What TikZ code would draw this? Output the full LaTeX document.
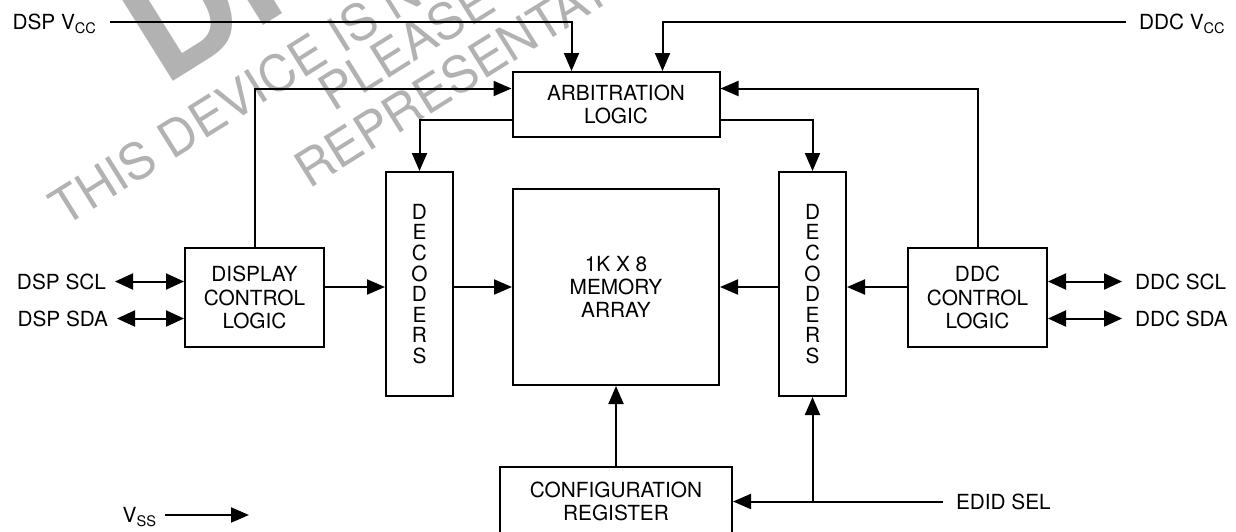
\documentclass[tikz,border=0pt]{standalone}
\usepackage{fontspec}
\setmainfont{TeX Gyre Heros}
\usetikzlibrary{arrows.meta, positioning}
\usepackage{xcolor}
\definecolor{wmgray}{RGB}{178,178,178}
\tikzstyle{block}   = [rectangle, draw=black, line width=1pt, align=center, inner sep=0pt]
\tikzstyle{decoder} = [block, minimum width=33.5pt, minimum height=112pt,
                       font=\fontsize{10.4}{10.3}\selectfont]
\tikzstyle{ctrl}    = [block, minimum width=69.5pt, minimum height=49.5pt]
\tikzstyle{sig}     = [inner sep=0pt, outer sep=6.5pt, text height=7.5pt, text depth=0pt]
\tikzstyle{wm}      = [text=wmgray, inner sep=0pt, anchor=base west, rotate=32,
                       font=\fontsize{25}{25}\selectfont]
\tikzstyle{arrow}   = [line width=1pt, -{Triangle[length=9pt, width=7.5pt]}]
\tikzstyle{dbl}     = [line width=1pt, {Triangle[length=9pt, width=8pt]}-{Triangle[length=9pt, width=8pt]}]

\begin{document}
\begin{tikzpicture}[x=0.5pt, y=-0.5pt, node distance=29pt,
                    every node/.style={font=\fontsize{10.4}{11.6}\selectfont}]
  \useasboundingbox (0,0) rectangle (1236,531);

  % Watermark
  \node (wmbig)   [wm, font=\fontsize{75}{75}\selectfont\bfseries] at (163,88) {DI};
  \node (wmtop)   [wm] at (64,228)  {THIS DEVICE IS NOT};
  \node (wmmid)   [wm] at (333,113) {PLEASE};
  \node (wmlow)   [wm] at (309,190) {REPRESENTATIVE};

  % Blocks
  \node (mem)  [block, minimum width=103pt, minimum height=98pt] at (616,287)
               {1K X 8\\MEMORY\\ARRAY};
  \node (arb)  [block, minimum width=103.5pt, minimum height=32.5pt, above=25pt of mem]
               {ARBITRATION\\LOGIC};
  \node (decL) [decoder, left=of mem, yshift=1.5pt]  {D\\E\\C\\O\\D\\E\\R\\S};
  \node (decR) [decoder, right=of mem, yshift=1.5pt] {D\\E\\C\\O\\D\\E\\R\\S};
  \node (disp) [ctrl, left=30pt of decL, yshift=-6.75pt]  {DISPLAY\\CONTROL\\LOGIC};
  \node (ddc)  [ctrl, right=30pt of decR, yshift=-6.75pt] {DDC\\CONTROL\\LOGIC};
  \node (cfg)  [block, minimum width=116pt, minimum height=34.5pt, below=40pt of mem]
               {CONFIGURATION\\REGISTER};

  % Pins
  \node (dspvcc) [sig, anchor=east] at (110,22)   {DSP V\textsubscript{CC}};
  \node (ddcvcc) [sig, anchor=west] at (1126,22)  {DDC V\textsubscript{CC}};
  \node (dspscl) [sig, outer sep=4.5pt, anchor=east] at (115,281.5) {DSP SCL};
  \node (dspsda) [sig, outer sep=4.5pt, anchor=east] at (117,318.5) {DSP SDA};
  \node (ddcscl) [sig, anchor=west] at (1122,281.5) {DDC SCL};
  \node (ddcsda) [sig, anchor=west] at (1122,318.5) {DDC SDA};
  \node (edid)   [sig, anchor=west] at (943,501.5)  {EDID SEL};
  \node (vss)    [sig, outer sep=4pt, anchor=east] at (165,515) {V\textsubscript{SS}};
  \coordinate (vssend) at (249,515);

  % Supplies
  \draw[arrow] (dspvcc.east) -| ([xshift=-22.25pt]arb.north);
  \draw[arrow] (ddcvcc.west) -| ([xshift=23.25pt]arb.north);

  % Control to arbitration
  \draw[arrow] (disp.north) |- ([yshift=8pt]arb.west);
  \draw[arrow] (ddc.north) |- ([yshift=8pt]arb.east);

  % Arbitration to decoders
  \draw[arrow] ([yshift=-7.75pt]arb.west) -| (decL.north);
  \draw[arrow] ([yshift=-7.75pt]arb.east) -| (decR.north);

  % Data path
  \draw[arrow] (disp.east |- mem) -- (decL.west |- mem);
  \draw[arrow] (decL.east |- mem) -- (mem.west);
  \draw[arrow] (decR.west |- mem) -- (mem.east);
  \draw[arrow] (ddc.west |- mem) -- (decR.east |- mem);

  % Serial lines
  \draw[dbl] (dspscl.east) -- (dspscl.east -| disp.west);
  \draw[dbl] (dspsda.east) -- (dspsda.east -| disp.west);
  \draw[dbl] (ddc.east |- ddcscl.west) -- (ddcscl.west);
  \draw[dbl] (ddc.east |- ddcsda.west) -- (ddcsda.west);

  % Configuration
  \draw[arrow] (cfg.north) -- (mem.south);
  \draw[arrow] (edid.west) -- (edid.west -| cfg.east);
  \coordinate (jn) at (decR.south |- edid.west);
  \draw[arrow] (jn) -- (decR.south);

  \draw[arrow] (vss.east) -- (vssend);

\end{tikzpicture}
\end{document}
